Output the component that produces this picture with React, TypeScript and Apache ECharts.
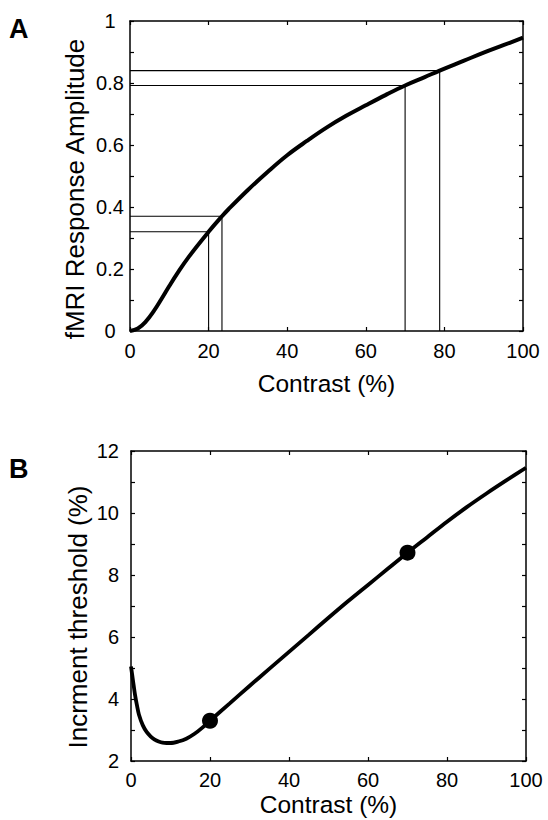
import React, { useEffect, useRef } from "react";
import * as echarts from "echarts";

// Panel A: fMRI response vs contrast
const contrastA = [0, 2, 4, 6, 8, 10, 12, 15, 20, 23.4, 25, 30, 35, 40, 45, 50, 55, 60, 65, 70, 75, 78.8, 85, 90, 95, 100];
const responseA = [0, 0.008, 0.03, 0.063, 0.103, 0.145, 0.185, 0.24, 0.32, 0.37, 0.392, 0.455, 0.513, 0.567, 0.613, 0.656, 0.694, 0.728, 0.761, 0.792, 0.819, 0.84, 0.872, 0.898, 0.922, 0.946];
// reference (projection) lines in panel A
const refX = [20, 23.4, 70, 78.8];
const refY = [0.32, 0.37, 0.792, 0.84];

// Panel B: increment threshold vs contrast
const contrastB = [0, 0.5, 1, 1.5, 2, 3, 4, 5, 6, 7, 8, 9, 10, 12, 14, 16, 18, 20, 25, 30, 35, 40, 45, 50, 55, 60, 65, 70, 75, 80, 85, 90, 95, 100];
const thresholdB = [5.05, 4.6, 4.15, 3.8, 3.5, 3.15, 2.93, 2.79, 2.69, 2.63, 2.59, 2.58, 2.58, 2.63, 2.72, 2.87, 3.07, 3.3, 3.86, 4.42, 4.97, 5.52, 6.07, 6.62, 7.16, 7.68, 8.2, 8.72, 9.22, 9.72, 10.19, 10.63, 11.05, 11.46];
const dotX = [20, 70];
const dotY = [3.3, 8.72];

const FONT = "'Liberation Sans', Arial, Helvetica, sans-serif";

export default function App() {
  const ref = useRef<HTMLDivElement>(null);
  useEffect(() => {
    document.body.style.margin = "0";
    const chart = echarts.init(ref.current!, null, { renderer: "svg" });
    const axisLine = { show: true, onZero: false, lineStyle: { color: "#000", width: 1.5 } };
    const tick = { show: true, inside: true, length: 4, lineStyle: { color: "#000", width: 1.2 } };
    const lbl = { color: "#000", fontSize: 20, fontFamily: FONT };
    const xBottom = (grid: number, margin: number, gap: number) => ({
      type: "value", gridIndex: grid, position: "bottom", min: 0, max: 100, interval: 20,
      axisLine, axisTick: tick, splitLine: { show: false },
      axisLabel: { ...lbl, margin },
      name: "Contrast (%)", nameLocation: "middle", nameGap: gap,
      nameTextStyle: { color: "#000", fontSize: 24.5, fontFamily: FONT },
    });
    const xTop = (grid: number) => ({
      type: "value", gridIndex: grid, position: "top", min: 0, max: 100, interval: 20,
      axisLine, axisTick: tick, axisLabel: { show: false }, splitLine: { show: false },
    });
    const yRight = (grid: number, min: number, max: number, interval: number) => ({
      type: "value", gridIndex: grid, position: "right", min, max, interval,
      axisLine, axisTick: tick, axisLabel: { show: false }, splitLine: { show: false },
    });
    const refSeries = refX.map((x, i) => ({
      type: "line", xAxisIndex: 0, yAxisIndex: 0, symbol: "none", silent: true,
      data: [[0, refY[i]], [x, refY[i]], [x, 0]],
      lineStyle: { color: "#000", width: 1.1 },
      z: 1,
    }));
    chart.setOption({
      animation: false,
      backgroundColor: "#fff",
      textStyle: { fontFamily: FONT },
      grid: [
        { left: 130, right: 25, top: 21, height: 310 },
        { left: 131, right: 22, top: 451, height: 310 },
      ],
      xAxis: [xBottom(0, 10, 40), xTop(0), xBottom(1, 9, 31), xTop(1)],
      yAxis: [
        {
          type: "value", gridIndex: 0, position: "left", min: 0, max: 1, interval: 0.1,
          axisLine, axisTick: tick, splitLine: { show: false },
          axisLabel: {
            ...lbl, margin: 20, align: "center",
            formatter: (v: number) => (Math.round(v * 10) % 2 === 0 ? String(+v.toFixed(1)) : ""),
          },
        },
        yRight(0, 0, 1, 0.1),
        {
          type: "value", gridIndex: 1, position: "left", min: 2, max: 12, interval: 1,
          axisLine, axisTick: tick, splitLine: { show: false },
          axisLabel: {
            ...lbl, margin: 12,
            formatter: (v: number) => (Math.round(v) % 2 === 0 ? String(Math.round(v)) : ""),
          },
        },
        yRight(1, 2, 12, 1),
      ],
      series: [
        ...refSeries,
        {
          type: "line", xAxisIndex: 0, yAxisIndex: 0, symbol: "none", smooth: 0.4,
          data: contrastA.map((c, i) => [c, responseA[i]]),
          lineStyle: { color: "#000", width: 4 }, z: 3,
        },
        {
          type: "line", xAxisIndex: 2, yAxisIndex: 2, symbol: "none", smooth: 0.3,
          data: contrastB.map((c, i) => [c, thresholdB[i]]),
          lineStyle: { color: "#000", width: 3.8 }, z: 3,
        },
        {
          type: "scatter", xAxisIndex: 2, yAxisIndex: 2, symbol: "circle", symbolSize: 16,
          data: dotX.map((c, i) => [c, dotY[i]]),
          itemStyle: { color: "#000", opacity: 1 }, z: 4,
        },
      ],
      graphic: [
        { type: "text", x: 9, y: 29, style: { text: "A", fontSize: 27, fontWeight: "bold", fontFamily: FONT, fill: "#000", align: "left", verticalAlign: "middle" } },
        { type: "text", x: 9, y: 469, style: { text: "B", fontSize: 27, fontWeight: "bold", fontFamily: FONT, fill: "#000", align: "left", verticalAlign: "middle" } },
        { type: "text", x: 75, y: 189, rotation: Math.PI / 2, style: { text: "fMRI Response Amplitude", fontSize: 26, fontFamily: FONT, fill: "#000", align: "center", verticalAlign: "middle" } },
        { type: "text", x: 78, y: 617, rotation: Math.PI / 2, style: { text: "Incrment threshold (%)", fontSize: 26, fontFamily: FONT, fill: "#000", align: "center", verticalAlign: "middle" } },
      ],
    });
    return () => chart.dispose();
  }, []);
  return <div ref={ref} style={{ width: 548, height: 820 }} />;
}
